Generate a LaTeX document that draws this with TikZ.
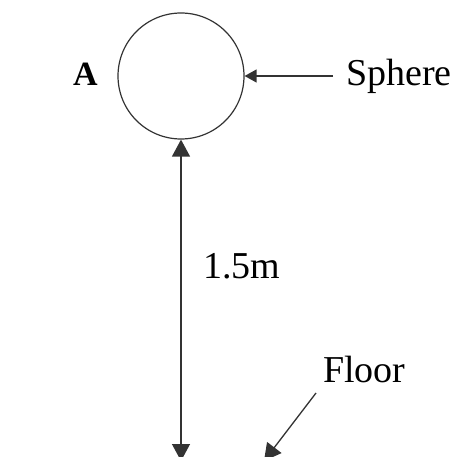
\documentclass[tikz,border=0pt]{standalone}
\usepackage{fontspec}
\setmainfont{Liberation Serif}
\usetikzlibrary{arrows.meta}
\tikzset{
  line/.style={line width=1.3pt, draw=black!80},
  bigtip/.style={-{Triangle[width=18pt,length=17pt]}},
  smalltip/.style={-{Triangle[width=13pt,length=12pt]}},
  lbl/.style={font=\fontsize{38}{42}\selectfont, inner sep=0pt, anchor=base west},
}
\begin{document}
\begin{tikzpicture}[x=1pt,y=-1pt]
\useasboundingbox (0,0) rectangle (454,457);
\clip (0,0) rectangle (454,457);
\node[draw=black!80, line width=1.2pt, circle, minimum size=126pt, inner sep=0pt] (sph) at (181,76) {};
\coordinate (bot) at (181,461);
\coordinate (sphstart) at (333,76);
\coordinate (flstart) at (316,393);
\coordinate (flend) at (264,461);
\draw[line, {Triangle[width=18pt,length=17pt]}-{Triangle[width=18pt,length=17pt]}] (sph.south) -- (bot);
\draw[line, smalltip] (sphstart) -- (sph.east);
\draw[line, bigtip] (flstart) -- (flend);
\node[lbl] (sphere) at (346,86) {Sphere};
\node[lbl, font=\fontsize{34}{38}\selectfont\bfseries] (a) at (73,86) {A};
\node[lbl] (h) at (203,278) {1.5m};
\node[lbl] (floor) at (323,382) {Floor};
\end{tikzpicture}
\end{document}
